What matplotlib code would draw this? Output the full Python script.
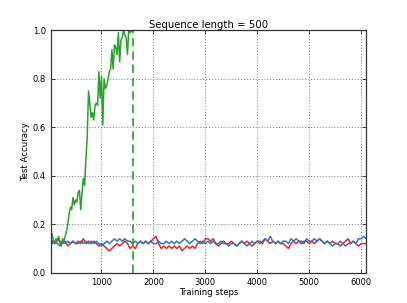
import numpy as np
import matplotlib
matplotlib.use("Agg")
import matplotlib.pyplot as plt

title = "Sequence length = 500"
xlabel = "Training steps"
ylabel = "Test Accuracy"

green_steps_start = 25
green_step = 25
green = [0.13, 0.16, 0.13, 0.12, 0.14, 0.13, 0.15, 0.12, 0.11, 0.14,
         0.13, 0.15, 0.17, 0.20, 0.24, 0.27, 0.26, 0.31, 0.28, 0.30,
         0.29, 0.33, 0.34, 0.26, 0.33, 0.39, 0.36, 0.47, 0.56, 0.75,
         0.70, 0.64, 0.66, 0.63, 0.69, 0.70, 0.69, 0.83, 0.72, 0.81,
         0.61, 0.80, 0.76, 0.77, 0.80, 0.83, 0.84, 0.92, 0.84, 0.94,
         0.93, 0.90, 0.99, 0.87, 0.96, 0.97, 1.00, 0.98, 0.97, 0.90,
         1.00, 0.99, 1.00, 0.995]
solved_step = 1600

noise_start = 50
noise_step = 50
red = [0.13, 0.12, 0.14, 0.13, 0.12, 0.13, 0.11, 0.12, 0.13, 0.12,
       0.13, 0.12, 0.14, 0.12, 0.13, 0.12, 0.13, 0.12, 0.11, 0.12,
       0.11, 0.10, 0.09, 0.10, 0.11, 0.12, 0.11, 0.12, 0.13, 0.12,
       0.10, 0.11, 0.10, 0.12, 0.13, 0.12, 0.13, 0.12, 0.13, 0.14,
       0.15, 0.12, 0.10, 0.11, 0.10, 0.11, 0.10, 0.11, 0.10, 0.11,
       0.09, 0.10, 0.11, 0.10, 0.11, 0.10, 0.12, 0.13, 0.12, 0.14,
       0.14, 0.13, 0.14, 0.12, 0.11, 0.12, 0.13, 0.12, 0.12, 0.13,
       0.12, 0.11, 0.12, 0.13, 0.12, 0.13, 0.12, 0.11, 0.12, 0.13,
       0.13, 0.12, 0.14, 0.13, 0.12, 0.13, 0.12, 0.13, 0.12, 0.12,
       0.11, 0.10, 0.12, 0.13, 0.12, 0.13, 0.12, 0.13, 0.13, 0.12,
       0.13, 0.12, 0.13, 0.14, 0.13, 0.12, 0.13, 0.12, 0.13, 0.12,
       0.12, 0.11, 0.12, 0.13, 0.14, 0.12, 0.13, 0.12, 0.11, 0.12,
       0.12, 0.12]
blue = [0.12, 0.13, 0.12, 0.11, 0.13, 0.12, 0.13, 0.12, 0.13, 0.12,
        0.12, 0.13, 0.12, 0.13, 0.12, 0.13, 0.12, 0.13, 0.12, 0.11,
        0.12, 0.13, 0.12, 0.13, 0.14, 0.13, 0.14, 0.13, 0.14, 0.13,
        0.13, 0.12, 0.13, 0.12, 0.13, 0.12, 0.13, 0.12, 0.13, 0.12,
        0.12, 0.13, 0.12, 0.12, 0.13, 0.12, 0.13, 0.12, 0.13, 0.12,
        0.13, 0.14, 0.13, 0.12, 0.13, 0.14, 0.13, 0.12, 0.13, 0.12,
        0.13, 0.12, 0.13, 0.12, 0.12, 0.13, 0.12, 0.12, 0.11, 0.12,
        0.12, 0.11, 0.12, 0.13, 0.12, 0.11, 0.12, 0.13, 0.12, 0.13,
        0.12, 0.13, 0.14, 0.13, 0.15, 0.13, 0.12, 0.13, 0.12, 0.13,
        0.13, 0.12, 0.14, 0.13, 0.14, 0.13, 0.13, 0.12, 0.14, 0.13,
        0.13, 0.14, 0.13, 0.14, 0.13, 0.12, 0.13, 0.12, 0.11, 0.12,
        0.12, 0.13, 0.12, 0.11, 0.12, 0.12, 0.13, 0.12, 0.14, 0.14,
        0.15, 0.14]

xticks = [1000, 2000, 3000, 4000, 5000, 6000]
yticks = [0.0, 0.2, 0.4, 0.6, 0.8, 1.0]

gx = green_steps_start + green_step * np.arange(len(green))
nx = noise_start + noise_step * np.arange(len(red))

fig = plt.figure(figsize=(4.07, 3.03), dpi=100, facecolor="white")
ax = fig.add_axes([0.125, 0.1, 0.775, 0.8])
ax.plot(nx, red, color="#e3262a", lw=1.1)
ax.plot(nx, blue, color="#2b7bba", lw=1.1)
ax.plot(gx, green, color="#2ca02c", lw=1.1)
ax.axvline(solved_step, color="#2ca02c", lw=1.2, ls=(0, (5, 3)))

ax.set_xlim(25, 6100)
ax.set_ylim(0, 1.0)
ax.set_xticks(xticks)
ax.set_yticks(yticks)
ax.set_yticklabels(["%.1f" % v for v in yticks])
ax.grid(True, color="#777777", ls=(0, (1, 2)), lw=0.7)
ax.tick_params(direction="in", top=True, right=True, labelsize=6, length=3, width=0.5)
for s in ax.spines.values():
    s.set_linewidth(0.9)
    s.set_color("#333333")
ax.set_title(title, fontsize=7.3, pad=2)
ax.set_xlabel(xlabel, fontsize=6.1, labelpad=1)
ax.set_ylabel(ylabel, fontsize=6.1, labelpad=2)
fig.savefig("out.png", dpi=100, facecolor="white")
